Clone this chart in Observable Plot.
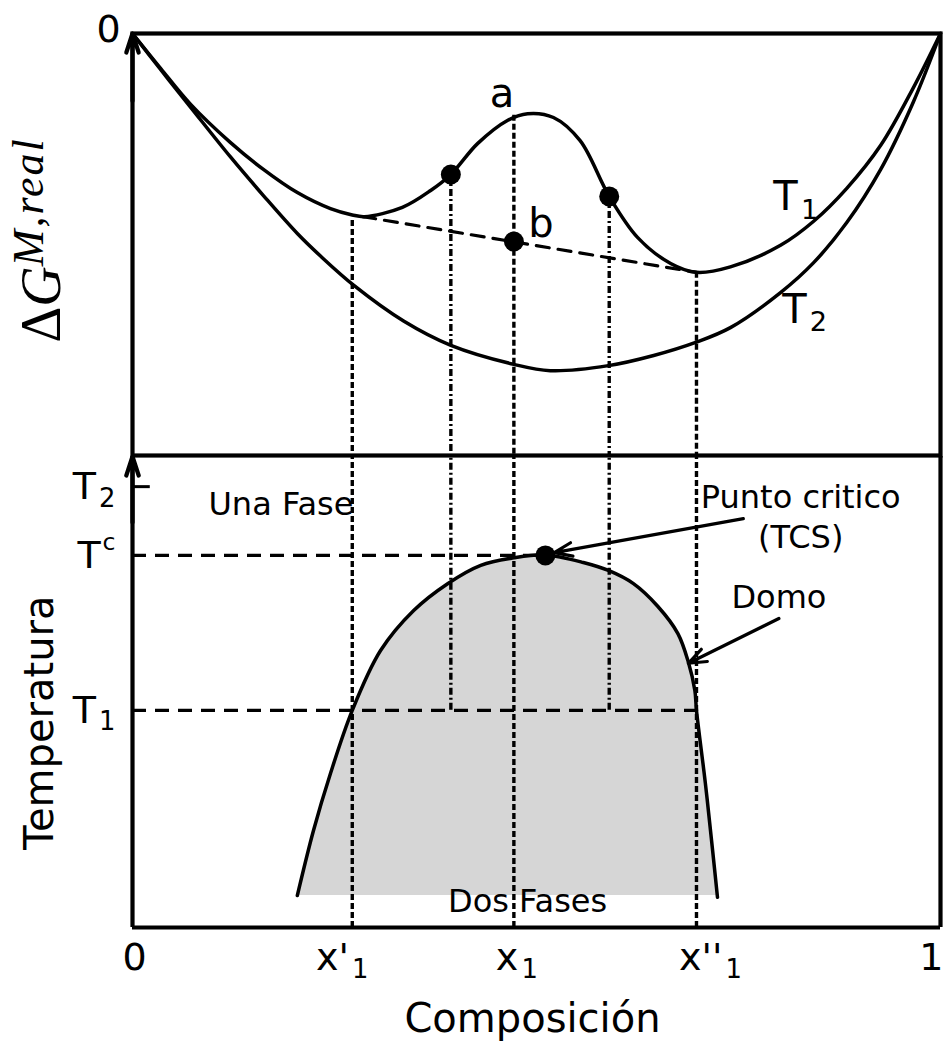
<!DOCTYPE html>
<html><head><meta charset="utf-8">
<script src="https://cdn.jsdelivr.net/npm/d3@7"></script>
<script src="https://cdn.jsdelivr.net/npm/@observablehq/plot@0.6"></script>
<style>
html,body{margin:0;padding:0;background:#fff;overflow:hidden}
#chart svg{display:block}
</style></head><body><div id="chart"></div>
<script>
// ---- Composition axis ----
const compTicks = [0, 0.272, 0.472, 0.698, 1];
const compLabels = ["0", "x'₁", "x₁", "x''₁", "1"];

// ---- Free energy of mixing ΔG^{M,real} (arbitrary units: 0 at top, -1 at panel bottom) ----
const t1X = [0, 0.035, 0.072, 0.121, 0.162, 0.204, 0.245, 0.272, 0.287, 0.334, 0.369, 0.394, 0.427, 0.464, 0.489, 0.521, 0.554, 0.590, 0.625, 0.666, 0.698, 0.740, 0.802, 0.843, 0.884, 0.926, 0.966, 1];
const t1G = [0, -0.083, -0.168, -0.258, -0.322, -0.377, -0.415, -0.430, -0.434, -0.412, -0.372, -0.334, -0.261, -0.206, -0.190, -0.199, -0.254, -0.386, -0.483, -0.545, -0.566, -0.553, -0.502, -0.445, -0.367, -0.265, -0.130, 0];
const t2X = [0, 0.035, 0.072, 0.121, 0.162, 0.204, 0.233, 0.274, 0.336, 0.394, 0.472, 0.517, 0.589, 0.645, 0.697, 0.740, 0.802, 0.843, 0.884, 0.926, 0.966, 1];
const t2G = [0, -0.086, -0.175, -0.292, -0.384, -0.474, -0.528, -0.597, -0.682, -0.739, -0.784, -0.799, -0.787, -0.763, -0.732, -0.697, -0.614, -0.543, -0.448, -0.322, -0.164, 0];
const curveLabels = ["T₁", "T₂"];

// common tangent (dashed) and points
const tieX = [0.285, 0.698];
const tieG = [-0.434, -0.566];
const spinX = [0.394, 0.590];          // inflection points (dots)
const spinG = [-0.334, -0.386];
const bX = [0.472], bG = [-0.493];      // point b
const guideX = [0.272, 0.472, 0.698];   // x'1, x1, x''1
const guideTopG = [-0.443, -0.194, -0.566];

// ---- Temperature panel (arbitrary units 0..1) ----
const tempTicks = [0.461, 0.790, 0.936];
const tempLabels = ["T₁", "Tᶜ", "T₂"];
const T1 = 0.461, Tc = 0.790, T2 = 0.936;
const xc = 0.511;
const domeX = [0.204, 0.224, 0.245, 0.272, 0.307, 0.348, 0.390, 0.431, 0.472, 0.511, 0.558, 0.589, 0.620, 0.650, 0.675, 0.688, 0.696, 0.698, 0.709, 0.718, 0.724];
const domeT = [0.068, 0.206, 0.327, 0.461, 0.588, 0.673, 0.730, 0.769, 0.785, 0.791, 0.775, 0.758, 0.730, 0.682, 0.624, 0.563, 0.503, 0.461, 0.306, 0.163, 0.064];
const domeBase = 0.068;
const regionLabels = ["Una Fase", "Dos Fases", "Punto critico\n(TCS)", "Domo"];

// ---- tables ----
const t1 = t1X.map((x, i) => ({x, g: t1G[i]}));
const t2 = t2X.map((x, i) => ({x, g: t2G[i]}));
const tie = tieX.map((x, i) => ({x, g: tieG[i]}));
const spin = spinX.map((x, i) => ({x, g: spinG[i]}));
const bPt = bX.map((x, i) => ({x, g: bG[i]}));
const guides = guideX.map((x, i) => ({x, g: guideTopG[i]}));
const dome = domeX.map((x, i) => ({x, t: domeT[i]}));

const common = {
  width: 943, marginLeft: 132, marginRight: 3,
  style: {fontFamily: "DejaVu Sans", background: "transparent", color: "black", overflow: "visible"}
};
const LW = 3.5, GW = 3.4, DW = 3.2, FW = 4.2;
// Plot scales arrow heads by stroke width (relative to 1.5)
const head = (px, sw) => px * 1.5 / sw;
// label nudges (pixels) and anchors for the composition tick labels
const tickNudge = [2, -10, 3, 14, 3];
const tickAnchor = ["middle", "middle", "middle", "middle", "end"];

const topPlot = Plot.plot({
  ...common,
  height: 456, marginTop: 33, marginBottom: 1,
  x: {domain: [0, 1], axis: null},
  y: {domain: [-1, 0], axis: null},
  marks: [
    Plot.ruleX(guides, {x: "x", y1: "g", y2: -1, stroke: "black", strokeWidth: GW, strokeDasharray: "6,3"}),
    Plot.ruleX(spin, {x: "x", y1: "g", y2: -1, stroke: "black", strokeWidth: GW, strokeDasharray: "7,3,2,3"}),
    Plot.line(tie, {x: "x", y: "g", stroke: "black", strokeWidth: DW, strokeDasharray: "13,9"}),
    Plot.line(t2, {x: "x", y: "g", curve: "catmull-rom", stroke: "black", strokeWidth: LW}),
    Plot.line(t1, {x: "x", y: "g", curve: "catmull-rom", stroke: "black", strokeWidth: LW}),
    Plot.dot(spin, {x: "x", y: "g", r: 10, fill: "black"}),
    Plot.dot(bPt, {x: "x", y: "g", r: 10, fill: "black"}),
    Plot.text(["a"], {x: 0.472, y: -0.194, dx: -12, dy: -21, fontSize: 40}),
    Plot.text(["b"], {x: 0.472, y: -0.493, dx: 27, dy: -17, fontSize: 40}),
    Plot.text([curveLabels[0]], {x: 0.793, y: -0.389, textAnchor: "start", fontSize: 40}),
    Plot.text([curveLabels[1]], {x: 0.804, y: -0.656, textAnchor: "start", fontSize: 40}),
    Plot.text(["0"], {x: 0, y: 0, dx: -24, dy: -4, fontSize: 38}),
    Plot.frame({stroke: "black", strokeWidth: FW}),
    Plot.arrow([0], {x1: 0, y1: -0.16, x2: 0, y2: 0, headLength: head(20, FW), headAngle: 36, stroke: "black", strokeWidth: FW})
  ]
});

const botPlot = Plot.plot({
  ...common,
  height: 586, marginTop: 0, marginBottom: 115,
  x: {domain: [0, 1]},
  y: {domain: [0, 1]},
  marks: [
    Plot.areaY(dome, {x: "x", y1: domeBase, y2: "t", curve: "catmull-rom", fill: "#d6d6d6"}),
    Plot.line(dome, {x: "x", y: "t", curve: "catmull-rom", stroke: "black", strokeWidth: LW}),
    Plot.ruleX(guideX, {y1: 0, y2: 1, stroke: "black", strokeWidth: GW, strokeDasharray: "6,3"}),
    Plot.ruleX(spinX, {y1: T1, y2: 1, stroke: "black", strokeWidth: GW, strokeDasharray: "7,3,2,3"}),
    Plot.ruleY([Tc], {x1: 0, x2: xc, stroke: "black", strokeWidth: DW, strokeDasharray: "14,9"}),
    Plot.ruleY([T1], {x1: 0, x2: 0.698, stroke: "black", strokeWidth: DW, strokeDasharray: "14,9"}),
    Plot.ruleY([T2], {x1: 0, x2: 0.022, stroke: "black", strokeWidth: 3}),
    Plot.dot([{x: xc, t: Tc}], {x: "x", y: "t", r: 10, fill: "black"}),
    Plot.arrow([{x1: 0.756, y1: 0.868, x2: 0.522, y2: 0.796}, {x1: 0.800, y1: 0.656, x2: 0.688, y2: 0.561}],
      {x1: "x1", y1: "y1", x2: "x2", y2: "y2", headLength: head(19, 3.2), headAngle: 42, stroke: "black", strokeWidth: 3.2}),
    Plot.text([regionLabels[0]], {x: 0.094, y: 0.898, textAnchor: "start", fontSize: 32}),
    Plot.text([regionLabels[1]], {x: 0.489, y: 0.055, fontSize: 32}),
    Plot.text([regionLabels[2]], {x: 0.827, y: 0.875, fontSize: 32, lineHeight: 1.25}),
    Plot.text([regionLabels[3]], {x: 0.800, y: 0.701, fontSize: 32}),
    Plot.text(["Temperatura"], {x: -0.114, y: 0.435, rotate: -90, fontSize: 40}),
    Plot.text(["Composición"], {x: 0.495, y: -0.195, fontSize: 40}),
    ...compTicks.map((t, i) => Plot.axisX({ticks: [t], tickFormat: () => compLabels[i], tickSize: 0, tickPadding: 16, fontSize: 38, textAnchor: tickAnchor[i], dx: tickNudge[i], label: null})),
    Plot.axisY({ticks: tempTicks, tickFormat: d => tempLabels[tempTicks.indexOf(d)], tickSize: 0, tickPadding: 17, fontSize: 38, label: null}),
    Plot.ruleX([0, 1], {stroke: "black", strokeWidth: FW}),
    Plot.ruleY([0], {stroke: "black", strokeWidth: FW}),
    Plot.arrow([0], {x1: 0, y1: 0.86, x2: 0, y2: 1, headLength: head(20, FW), headAngle: 36, stroke: "black", strokeWidth: FW})
  ]
});

// turn unicode sub/superscripts into real tspans
const SUB = {"₁": "1", "₂": "2"}, SUP = {"ᶜ": "c"};
function richText(svg) {
  d3.select(svg).selectAll("text").each(function() {
    if (this.querySelector("tspan")) return;
    const s = this.textContent;
    if (!/[₁₂ᶜ]/.test(s)) return;
    const el = d3.select(this);
    el.text(null);
    for (const part of s.match(/[₁₂ᶜ]|[^₁₂ᶜ]+/g)) {
      if (SUB[part]) el.append("tspan").attr("font-size", "0.68em").attr("dx", "0.12em").attr("dy", "0.3em").text(SUB[part]);
      else if (SUP[part]) el.append("tspan").attr("font-size", "0.62em").attr("dx", "0.08em").attr("dy", "-0.75em").text(SUP[part]);
      else el.append("tspan").text(part);
    }
  });
}
richText(topPlot);
richText(botPlot);

// y-axis title of the upper panel with math-style super-script
const lab = d3.select(topPlot).append("text")
  .attr("transform", "translate(60,240) rotate(-90)")
  .attr("text-anchor", "middle")
  .attr("font-family", "Liberation Serif")
  .attr("font-size", 56)
  .attr("fill", "black");
lab.append("tspan").text("Δ");
lab.append("tspan").attr("font-style", "italic").text("G");
lab.append("tspan").attr("font-style", "italic").attr("font-size", 44).attr("letter-spacing", 2).attr("dy", -17).text("M,real");

const chart = document.getElementById("chart");
chart.append(topPlot);
chart.append(botPlot);
</script></body></html>
